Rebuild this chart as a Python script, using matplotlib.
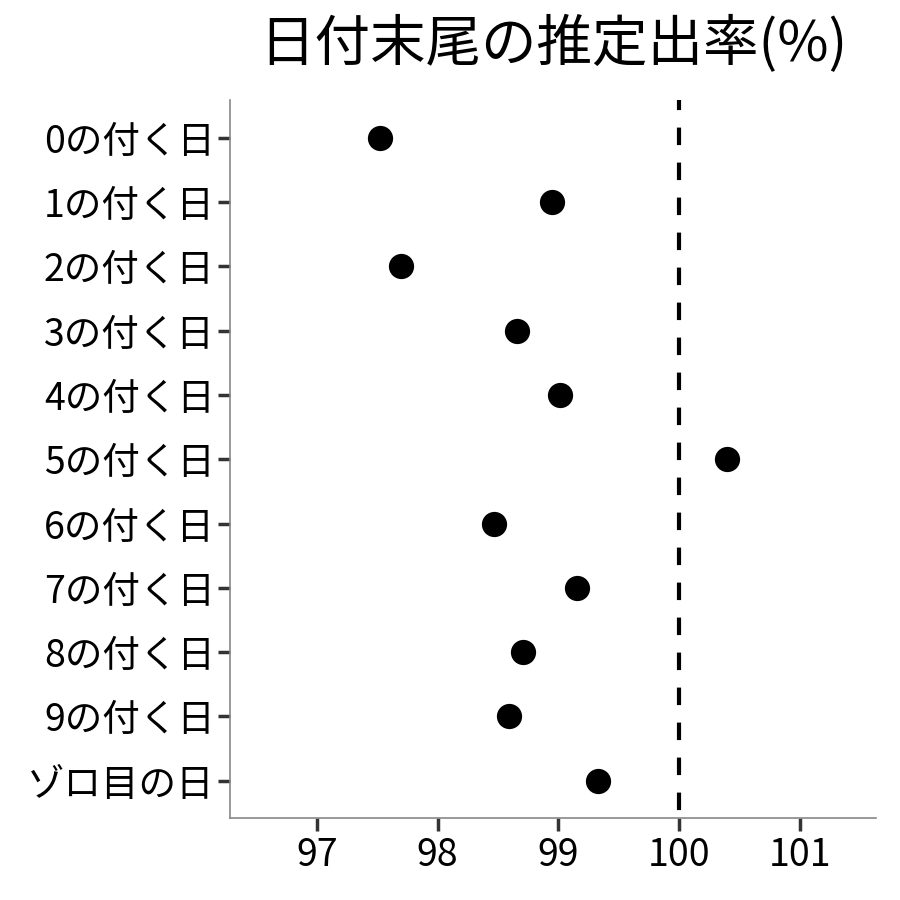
import matplotlib
matplotlib.use("Agg")
import matplotlib.pyplot as plt

plt.rcParams['font.family'] = ['Noto Sans CJK JP', 'DejaVu Sans']

categories = ["0の付く日", "1の付く日", "2の付く日", "3の付く日", "4の付く日",
              "5の付く日", "6の付く日", "7の付く日", "8の付く日", "9の付く日", "ゾロ目の日"]
values = [97.52, 98.95, 97.70, 98.66, 99.01, 100.40, 98.47, 99.15, 98.71, 98.59, 99.33]
xticks = [97, 98, 99, 100, 101]
ref_line = 100
title = "日付末尾の推定出率(%)"

fig = plt.figure(figsize=(9, 9), dpi=100)
ax = fig.add_axes([230/900, 1 - 818/900, (876-230)/900, (818-100)/900])

ypos = list(range(len(categories)))
ax.scatter(values, ypos, s=330, color="black", zorder=3, linewidths=0)
ax.axvline(ref_line, color="black", linestyle=(6.5, (4.2, 4.2)), linewidth=3)

ax.set_xlim(96.28, 101.63)
ax.set_ylim(len(categories) - 1 + 0.58, -0.59)
ax.set_yticks(ypos)
ax.set_yticklabels(categories)
ax.set_xticks(xticks)
ax.set_xticklabels([str(t) for t in xticks])

for s in ["top", "right"]:
    ax.spines[s].set_visible(False)
for s in ["left", "bottom"]:
    ax.spines[s].set_color("#888888")
    ax.spines[s].set_linewidth(1.2)

ax.tick_params(axis="both", direction="out", length=9, width=2.5, color="#333333",
               labelsize=27, labelcolor="black")
ax.tick_params(axis="y", pad=2)
ax.tick_params(axis="x", pad=4)

fig.suptitle(title, x=553/900, y=1 - 45/900, va="center", fontsize=40)

fig.savefig("out.png", dpi=100)
